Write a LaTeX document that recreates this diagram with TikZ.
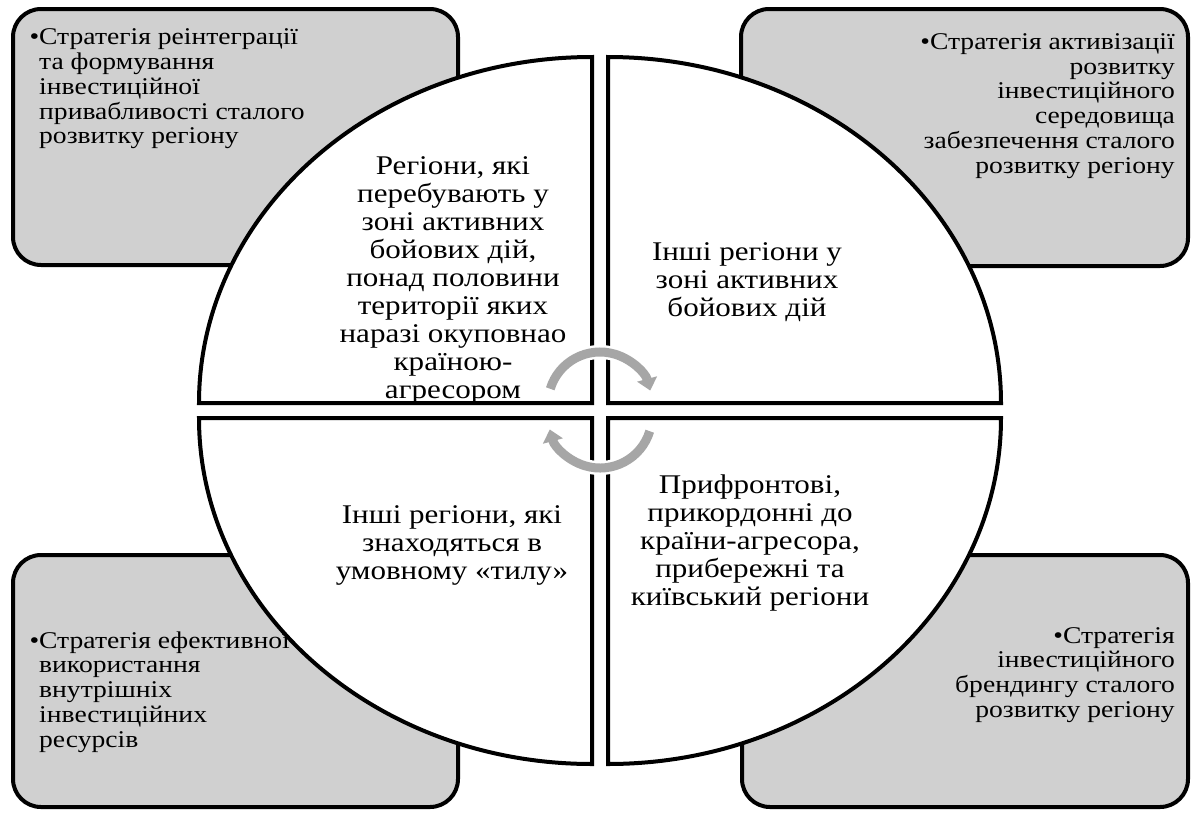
\documentclass[tikz,border=0pt]{standalone}
\usepackage{fontspec}
\setmainfont{Liberation Serif}[FakeStretch=1.15]
\usetikzlibrary{arrows.meta}
\definecolor{boxgray}{RGB}{208,208,208}
\definecolor{arrgray}{RGB}{166,166,166}
\tikzset{
  sbox/.style={draw=black, line width=4pt, fill=boxgray, rounded corners=28pt},
  quad/.style={draw=black, line width=4pt, fill=white, line join=miter},
  btxt/.style={inner sep=0pt, font=\fontsize{24}{24.8}\selectfont},
  qtxt/.style={inner sep=0pt, align=center, font=\fontsize{27}{28}\selectfont},
  arrwhite/.style={white, line width=14pt, -{Triangle[width=26pt,length=16pt]}},
  arrgrey/.style={arrgray, line width=9pt, -{Triangle[width=20pt,length=12pt]}}
}
\newcommand{\bul}{\llap{•}}
\begin{document}
\begin{tikzpicture}[x=1pt,y=1pt]
\useasboundingbox (0,0) rectangle (1192,-812);
\fill[white] (0,0) rectangle (1192,-812);
% strategy boxes
\draw[sbox] (13,-9) rectangle (458,-265);
\draw[sbox] (741,-9) rectangle (1188,-266);
\draw[sbox] (13,-555) rectangle (458,-807);
\draw[sbox] (742,-555) rectangle (1188,-807);
\node[btxt, anchor=west, align=left] (tlt) at (39,-89)
  {\bul Стратегія реінтеграції\\та формування\\інвестиційної\\привабливості сталого\\розвитку регіону};
\node[btxt, anchor=east, align=right] (trt) at (1175,-106)
  {•Стратегія активізації\\розвитку\\інвестиційного\\середовища\\забезпечення сталого\\розвитку регіону};
\node[btxt, anchor=west, align=left] (blt) at (39,-692)
  {\bul Стратегія ефективної\\використання\\внутрішніх\\інвестиційних\\ресурсів};
\node[btxt, anchor=east, align=right] (brt) at (1175,-675)
  {•Стратегія\\інвестиційного\\брендингу сталого\\розвитку регіону};
% quadrants
\draw[quad] (592,-403) -- (199,-403) arc[start angle=180, end angle=90, x radius=393, y radius=346] -- cycle;
\draw[quad] (608,-403) -- (1001,-403) arc[start angle=0, end angle=90, x radius=393, y radius=346] -- cycle;
\draw[quad] (592,-418) -- (199,-418) arc[start angle=180, end angle=270, x radius=393, y radius=346] -- cycle;
\draw[quad] (608,-418) -- (1001,-418) arc[start angle=0, end angle=-90, x radius=393, y radius=346] -- cycle;
\node[qtxt] (q1) at (453,-280)
  {Регіони, які\\перебувають у\\зоні активних\\бойових дій,\\понад половини\\території яких\\наразі окуповнао\\країною-\\агресором};
\node[qtxt] (q2) at (747,-282) {Інші регіони у\\зоні активних\\бойових дій};
\node[qtxt] (q3) at (452,-545) {Інші регіони, які\\знаходяться в\\умовному «тилу»};
\node[qtxt] (q4) at (750,-543) {Прифронтові,\\прикордонні до\\країни-агресора,\\прибережні та\\київський регіони};
% circular arrows
\coordinate (c1) at (600,-404);
\coordinate (c2) at (600,-416);
\draw[arrwhite] (c1) ++(163:52) arc[start angle=163, end angle=15, radius=52];
\draw[arrgrey] (c1) ++(163:52) arc[start angle=163, end angle=15, radius=52];
\draw[arrwhite] (c2) ++(-17:52) arc[start angle=-17, end angle=-165, radius=52];
\draw[arrgrey] (c2) ++(-17:52) arc[start angle=-17, end angle=-165, radius=52];
\end{tikzpicture}
\end{document}
